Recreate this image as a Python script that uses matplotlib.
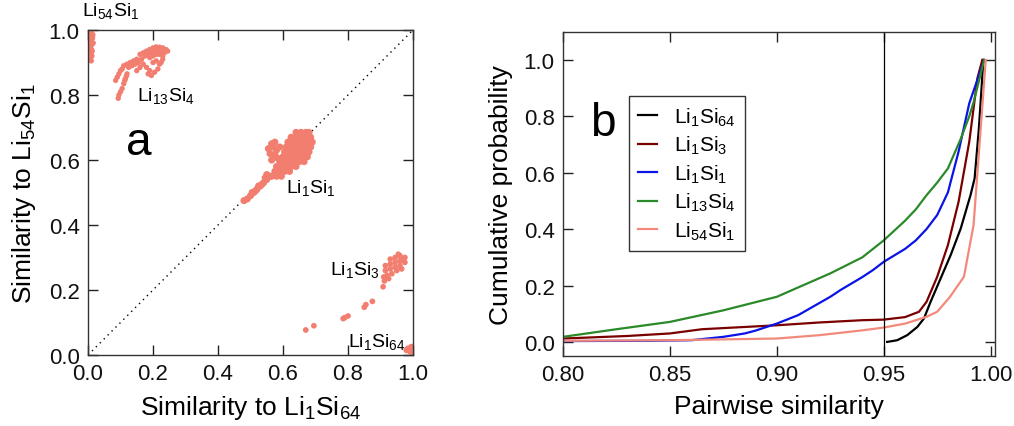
import matplotlib
matplotlib.use("Agg")
import matplotlib.pyplot as plt
from matplotlib.ticker import FormatStrFormatter

plt.rcParams['font.family'] = ['Liberation Sans', 'DejaVu Sans']
plt.rcParams['mathtext.default'] = 'regular'

# ---------------- panel a data (similarity to Li1Si64, similarity to Li54Si1) ----------------
li54si1_x = [0.008, 0.012, 0.006, 0.014, 0.009, 0.012, 0.007, 0.011, 0.009, 0.012, 0.008, 0.010,
             0.015, 0.005, 0.016, 0.006, 0.013, 0.010]
li54si1_y = [0.995, 0.990, 0.980, 0.975, 0.965, 0.955, 0.945, 0.940, 0.930, 0.920, 0.910, 0.905,
             0.985, 0.970, 0.960, 0.950, 0.935, 0.925]

li13si4_x = [0.160, 0.170, 0.180, 0.190, 0.200, 0.210, 0.220, 0.230, 0.240, 0.245, 0.175, 0.185,
             0.195, 0.205, 0.215, 0.225, 0.235, 0.190, 0.200, 0.210, 0.220, 0.230, 0.150, 0.140,
             0.130, 0.120, 0.110, 0.165, 0.145, 0.155, 0.125, 0.135,
             0.170, 0.180, 0.190, 0.200, 0.210, 0.220, 0.215, 0.205, 0.195, 0.185, 0.230, 0.225,
             0.160, 0.150,
             0.100, 0.095, 0.090, 0.085, 0.105,
             0.120, 0.115, 0.110, 0.105, 0.100, 0.095, 0.093, 0.113, 0.118]
li13si4_y = [0.925, 0.930, 0.935, 0.940, 0.945, 0.948, 0.947, 0.945, 0.940, 0.935, 0.920, 0.925,
             0.930, 0.935, 0.937, 0.935, 0.930, 0.915, 0.920, 0.925, 0.925, 0.920, 0.910, 0.905,
             0.900, 0.895, 0.890, 0.910, 0.895, 0.900, 0.885, 0.890,
             0.895, 0.885, 0.875, 0.900, 0.905, 0.895, 0.880, 0.870, 0.860, 0.865, 0.910, 0.900,
             0.885, 0.875,
             0.875, 0.865, 0.855, 0.845, 0.880,
             0.865, 0.850, 0.835, 0.820, 0.810, 0.800, 0.790, 0.845, 0.858]

li1si1_x = [0.640, 0.655, 0.670, 0.680,
            0.625, 0.640, 0.655, 0.670, 0.685,
            0.615, 0.630, 0.645, 0.660, 0.675, 0.690,
            0.610, 0.625, 0.640, 0.655, 0.670, 0.685,
            0.605, 0.620, 0.635, 0.650, 0.665, 0.680,
            0.600, 0.615, 0.630, 0.645, 0.660, 0.675,
            0.590, 0.605, 0.620, 0.635, 0.650, 0.665,
            0.580, 0.595, 0.610, 0.625, 0.640,
            0.575, 0.590, 0.605, 0.620,
            0.565, 0.580, 0.595,
            0.565, 0.575, 0.570, 0.580, 0.560, 0.575, 0.585, 0.565, 0.590, 0.555,
            0.550, 0.540, 0.530, 0.520, 0.510, 0.500, 0.490, 0.480, 0.545, 0.535, 0.525, 0.515,
            0.505, 0.560, 0.550]
li1si1_y = [0.685, 0.685, 0.685, 0.685,
            0.670, 0.670, 0.670, 0.670, 0.670,
            0.655, 0.655, 0.655, 0.655, 0.655, 0.655,
            0.640, 0.640, 0.640, 0.640, 0.640, 0.640,
            0.625, 0.625, 0.625, 0.625, 0.625, 0.625,
            0.610, 0.610, 0.610, 0.610, 0.610, 0.610,
            0.595, 0.595, 0.595, 0.595, 0.595, 0.595,
            0.580, 0.580, 0.580, 0.580, 0.580,
            0.565, 0.565, 0.565, 0.565,
            0.550, 0.550, 0.550,
            0.650, 0.655, 0.640, 0.630, 0.620, 0.615, 0.605, 0.600, 0.640, 0.635,
            0.540, 0.530, 0.520, 0.510, 0.500, 0.490, 0.480, 0.475, 0.545, 0.525, 0.520, 0.505,
            0.500, 0.550, 0.555]

li1si3_x = [0.960, 0.975, 0.945, 0.930, 0.960, 0.975, 0.945, 0.930, 0.915, 0.960, 0.945, 0.930,
            0.915, 0.950, 0.935, 0.920, 0.910, 0.925, 0.912, 0.965, 0.970, 0.955,
            0.908, 0.875, 0.850, 0.855, 0.790, 0.800, 0.785, 0.695, 0.670]
li1si3_y = [0.305, 0.300, 0.300, 0.295, 0.290, 0.285, 0.285, 0.280, 0.275, 0.275, 0.270, 0.265,
            0.260, 0.260, 0.250, 0.245, 0.240, 0.235, 0.228, 0.265, 0.295, 0.310,
            0.210, 0.165, 0.147, 0.155, 0.115, 0.120, 0.112, 0.090, 0.077]

li1si64_x = [0.985, 0.995, 0.990, 0.998, 0.980, 0.995]
li1si64_y = [0.020, 0.025, 0.012, 0.015, 0.015, 0.008]

# ---------------- panel b data (cumulative distributions) ----------------
cdf_li1si64_x = [0.9516, 0.9563, 0.961, 0.9657, 0.9688, 0.9719, 0.9766, 0.9813, 0.986, 0.9906,
                 0.9925, 0.9945, 0.9966]
cdf_li1si64_y = [0.0, 0.006, 0.024, 0.053, 0.083, 0.142, 0.225, 0.308, 0.402, 0.521, 0.58, 0.757, 1.0]

cdf_li1si3_x = [0.80, 0.83, 0.850, 0.865, 0.880, 0.900, 0.920, 0.940, 0.950, 0.960, 0.9665, 0.970,
                0.975, 0.980, 0.985, 0.990, 0.9938, 0.9961]
cdf_li1si3_y = [0.012, 0.021, 0.030, 0.045, 0.051, 0.059, 0.069, 0.077, 0.079, 0.088, 0.107, 0.142,
                0.231, 0.343, 0.497, 0.710, 0.935, 1.0]

cdf_li1si1_x = [0.80, 0.84, 0.86, 0.875, 0.885, 0.89, 0.90, 0.91, 0.925, 0.93, 0.94, 0.945, 0.95,
                0.96, 0.965, 0.97, 0.975, 0.98, 0.985, 0.99, 0.997]
cdf_li1si1_y = [0.003, 0.004, 0.006, 0.018, 0.030, 0.040, 0.065, 0.095, 0.160, 0.185, 0.230, 0.255,
                0.284, 0.330, 0.360, 0.400, 0.450, 0.530, 0.675, 0.846, 1.0]

cdf_li13si4_x = [0.80, 0.825, 0.85, 0.875, 0.90, 0.925, 0.94, 0.95, 0.96, 0.965, 0.97, 0.975, 0.98,
                 0.986, 0.99, 0.992, 0.997]
cdf_li13si4_y = [0.018, 0.045, 0.071, 0.112, 0.160, 0.243, 0.300, 0.360, 0.430, 0.470, 0.520, 0.565,
                 0.615, 0.720, 0.800, 0.850, 1.0]

cdf_li54si1_x = [0.80, 0.85, 0.90, 0.92, 0.94, 0.95, 0.96, 0.97, 0.975, 0.981, 0.9875, 0.992, 0.9977]
cdf_li54si1_y = [0.004, 0.006, 0.012, 0.024, 0.041, 0.051, 0.065, 0.089, 0.107, 0.160, 0.231, 0.414, 1.0]

names = ['Li$_1$Si$_{64}$', 'Li$_1$Si$_3$', 'Li$_1$Si$_1$', 'Li$_{13}$Si$_4$', 'Li$_{54}$Si$_1$']
colors = ['#000000', '#7a0000', '#0a14e6', '#2a8a2a', '#f28a7c']

salmon = '#f27e70'

fig = plt.figure(figsize=(10.14, 4.27), dpi=100)
axa = fig.add_axes([0.0868, 0.1663, 0.3205, 0.7611])
axb = fig.add_axes([0.5552, 0.1639, 0.4260, 0.7595])

for ax in (axa, axb):
    ax.tick_params(direction='in', top=True, right=True, length=7, width=1,
                   labelsize=16, colors='#222222', pad=6)
    ax.tick_params(labelcolor='#111111')
    for s in ax.spines.values():
        s.set_linewidth(1.0)
        s.set_color('#333333')

# panel a
axa.plot([0, 1], [0, 1], ls=(0, (1, 3)), color='black', lw=1.0, zorder=1)
for xs, ys, sz in [(li54si1_x, li54si1_y, 15), (li13si4_x, li13si4_y, 15), (li1si1_x, li1si1_y, 26),
                   (li1si3_x, li1si3_y, 17), (li1si64_x, li1si64_y, 20)]:
    axa.scatter(xs, ys, s=sz, color=salmon, edgecolors='none', zorder=2)
axa.set_xlim(0, 1)
axa.set_ylim(0, 1)
axa.set_xticks([0, 0.2, 0.4, 0.6, 0.8, 1.0])
axa.set_yticks([0, 0.2, 0.4, 0.6, 0.8, 1.0])
axa.xaxis.set_major_formatter(FormatStrFormatter('%.1f'))
axa.yaxis.set_major_formatter(FormatStrFormatter('%.1f'))
axa.set_xlabel('Similarity to Li$_1$Si$_{64}$', fontsize=19, labelpad=6)
axa.set_ylabel('Similarity to Li$_{54}$Si$_1$', fontsize=19, labelpad=8)
lab_kw = dict(fontsize=14, va='center', ha='left')
axa.text(-0.018, 1.063, 'Li$_{54}$Si$_1$', clip_on=False, **lab_kw)
axa.text(0.150, 0.80, 'Li$_{13}$Si$_4$', **lab_kw)
axa.text(0.610, 0.517, 'Li$_1$Si$_1$', **lab_kw)
axa.text(0.745, 0.265, 'Li$_1$Si$_3$', **lab_kw)
axa.text(0.800, 0.043, 'Li$_1$Si$_{64}$', **lab_kw)
axa.text(0.155, 0.655, 'a', fontsize=33, ha='center', va='center')

# panel b
curves = [(cdf_li1si64_x, cdf_li1si64_y), (cdf_li1si3_x, cdf_li1si3_y), (cdf_li1si1_x, cdf_li1si1_y),
          (cdf_li13si4_x, cdf_li13si4_y), (cdf_li54si1_x, cdf_li54si1_y)]
for (xs, ys), name, c in zip(curves, names, colors):
    axb.plot(xs, ys, color=c, lw=1.6, label=name, solid_joinstyle='round')
axb.axvline(0.95, color='black', lw=0.9)
axb.set_xlim(0.80, 1.002)
axb.set_ylim(-0.05, 1.1)
axb.set_xticks([0.80, 0.85, 0.90, 0.95, 1.00])
axb.set_yticks([0.0, 0.2, 0.4, 0.6, 0.8, 1.0])
axb.xaxis.set_major_formatter(FormatStrFormatter('%.2f'))
axb.yaxis.set_major_formatter(FormatStrFormatter('%.1f'))
axb.set_xlabel('Pairwise similarity', fontsize=19, labelpad=6)
axb.set_ylabel('Cumulative probability', fontsize=19, labelpad=8)
axb.text(0.0925, 0.72, 'b', fontsize=33, ha='center', va='center', transform=axb.transAxes)
leg = axb.legend(loc='upper left', bbox_to_anchor=(0.153, 0.802), borderaxespad=0,
                 fontsize=15, handlelength=0.9, handletextpad=0.8, labelspacing=0.3,
                 fancybox=False, framealpha=1, edgecolor='#333333', borderpad=0.45)
leg.get_frame().set_linewidth(1.0)

fig.savefig('out.png', dpi=100)
